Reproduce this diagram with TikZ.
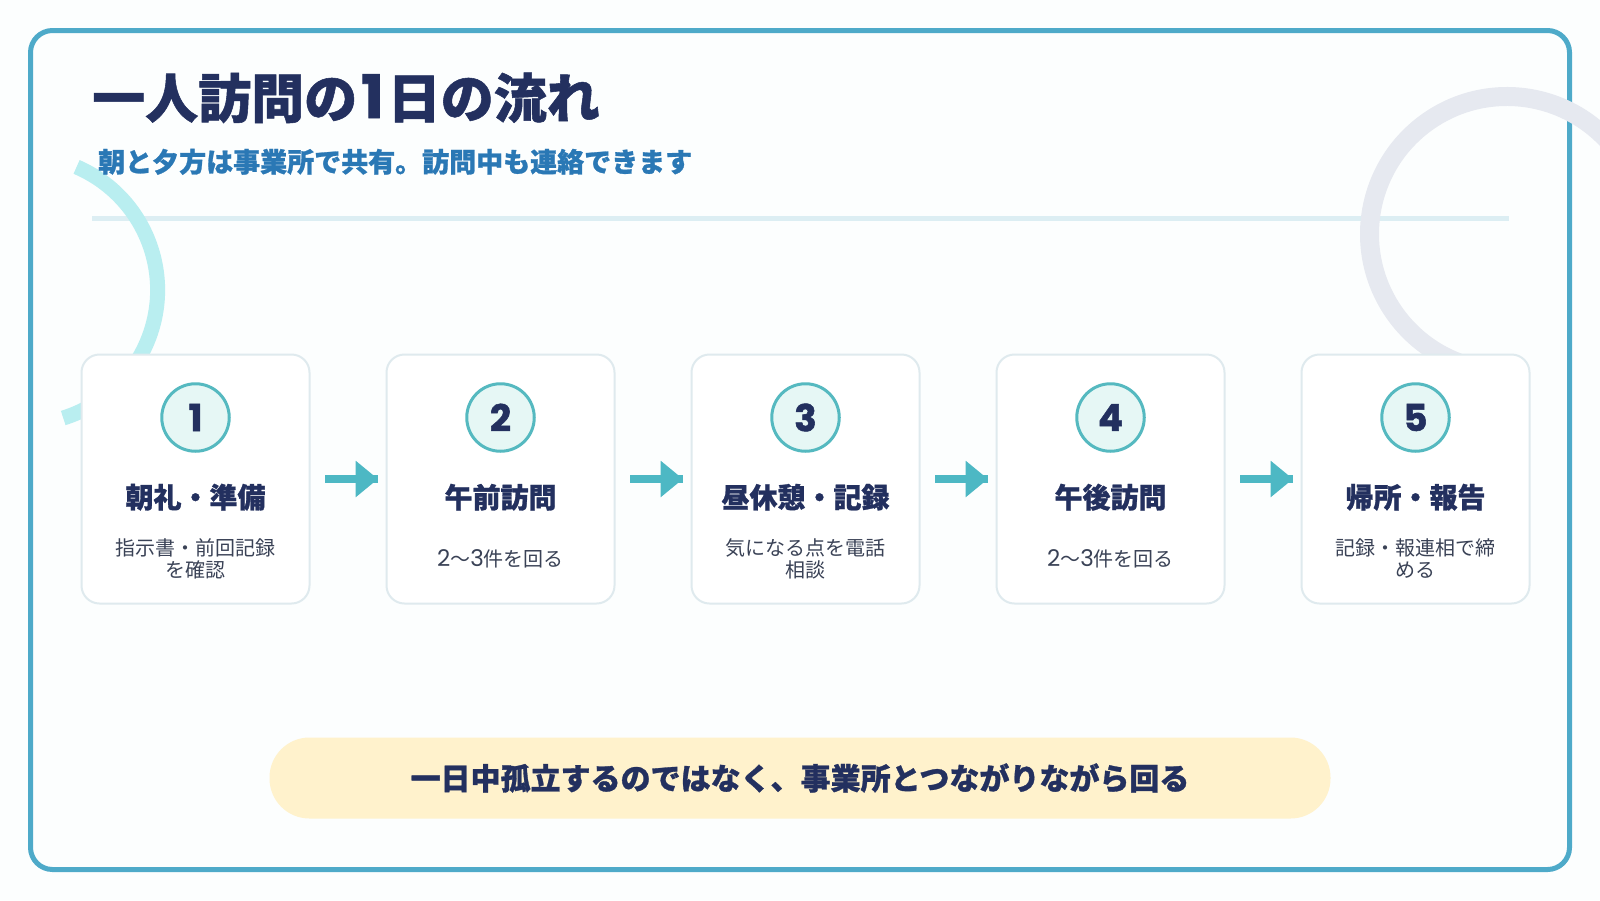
\documentclass[tikz,border=0pt]{standalone}
\usepackage{fontspec}
\setmainfont{Noto Sans CJK JP}
\newfontfamily\heavyfont[FakeBold=1]{Noto Sans CJK JP Black}
\newfontfamily\digitheavy[FakeBold=1.5]{Poppins Bold}
\newfontfamily\digitlight{Poppins}
\usetikzlibrary{arrows.meta}
\definecolor{pagebg}{HTML}{FCFEFE}
\definecolor{framec}{HTML}{4EAAC9}
\definecolor{navy}{HTML}{23305F}
\definecolor{subc}{HTML}{2A78B5}
\definecolor{rulec}{HTML}{DCEEF3}
\definecolor{arcl}{HTML}{B9EEF0}
\definecolor{arcr}{HTML}{E6E9F0}
\definecolor{cardb}{HTML}{DFEAEE}
\definecolor{badgeb}{HTML}{55B9C0}
\definecolor{badgef}{HTML}{E6F7F5}
\definecolor{descc}{HTML}{3A4256}
\definecolor{arrowc}{HTML}{4DB8C4}
\definecolor{pillc}{HTML}{FFF2CC}
\newcommand\badgenum[1]{\raisebox{-1.8pt}{#1}}
\newcommand\descdigit[1]{{\digitlight\fontsize{23}{22}\selectfont #1}}
\newcommand\twothree{\descdigit{2}〜\descdigit{3}件を回る}
\tikzset{
  cardbox/.style={draw=cardb,line width=2pt,fill=white,rounded corners=18pt,minimum width=228pt,minimum height=249pt,outer sep=0pt,inner sep=0pt},
  badge/.style={circle,draw=badgeb,line width=3pt,fill=badgef,minimum size=67.5pt,inner sep=0pt,text=navy,font=\digitheavy\fontsize{37}{37}\selectfont},
  cardtitle/.style={text=navy,inner sep=0pt,font=\heavyfont\fontsize{28}{30}\selectfont},
  carddesc/.style={text=descc,inner sep=0pt,align=center,font=\fontsize{20}{22}\selectfont},
  flow/.style={draw=arrowc,line width=8pt,shorten <=15.5pt,shorten >=8.5pt,-{Triangle[length=22.3pt,width=35pt]},postaction={draw=arrowc,-}},
}
\begin{document}
\begin{tikzpicture}[x=1pt,y=1pt]
\useasboundingbox (0,0) rectangle (1600,-900);
\fill[pagebg] (0,0) rectangle (1600,-900);
\draw[framec,line width=5pt,rounded corners=22pt] (30.5,-30.5) rectangle (1569.5,-869.5);
\draw[rulec,line width=5pt] (92,-218.5) -- (1509,-218.5);
\draw[arcl,line width=15pt] ([shift={(23.6,-290)}]66.7:134) arc (66.7:-72.8:134);
\draw[arcr,line width=19pt] ([shift={(1507,-234)}]35:137.5) arc (35:270:137.5);
\node[anchor=base west,inner sep=0pt,text=navy,font=\heavyfont\fontsize{53}{53}\selectfont] (title) at (92,-118) {一人訪問の\hspace{4pt}{\digitheavy\fontsize{60}{53}\selectfont 1}\hspace{4pt}日の流れ};
\node[anchor=base west,inner sep=0pt,text=subc,font=\heavyfont\fontsize{27}{27}\selectfont] (subtitle) at (98,-172) {朝と夕方は事業所で共有。訪問中も連絡できます};
\node[cardbox] (c1) at (195.5,-479) {};
\node[cardbox] (c2) at (500.5,-479) {};
\node[cardbox] (c3) at (805.5,-479) {};
\node[cardbox] (c4) at (1110.5,-479) {};
\node[cardbox] (c5) at (1415.5,-479) {};
\node[badge] (b1) at (195.5,-417.5) {\badgenum{1}};
\node[badge] (b2) at (500.5,-417.5) {\badgenum{2}};
\node[badge] (b3) at (805.5,-417.5) {\badgenum{3}};
\node[badge] (b4) at (1110.5,-417.5) {\badgenum{4}};
\node[badge] (b5) at (1415.5,-417.5) {\badgenum{5}};
\node[cardtitle] (t1) at (195.5,-497.2) {朝礼・準備};
\node[cardtitle] (t2) at (500.5,-497.2) {午前訪問};
\node[cardtitle] (t3) at (805.5,-497.2) {昼休憩・記録};
\node[cardtitle] (t4) at (1110.5,-497.2) {午後訪問};
\node[cardtitle] (t5) at (1415.5,-497.2) {帰所・報告};
\node[carddesc] (d1) at (195.5,-559) {指示書・前回記録\\を確認};
\node[carddesc] (d2) at (500.5,-559) {\twothree};
\node[carddesc] (d3) at (805.5,-559) {気になる点を電話\\相談};
\node[carddesc] (d4) at (1110.5,-559) {\twothree};
\node[carddesc] (d5) at (1415.5,-559) {記録・報連相で締\\める};
\draw[flow] (c1.east) -- (c2.west);
\draw[flow] (c2.east) -- (c3.west);
\draw[flow] (c3.east) -- (c4.west);
\draw[flow] (c4.east) -- (c5.west);
\node[fill=pillc,rounded corners=40pt,minimum width=1061pt,minimum height=81pt,inner sep=0pt,outer sep=0pt,text=navy,font=\heavyfont\fontsize{30}{30}\selectfont] (pill) at (800,-778) {一日中孤立するのではなく、事業所とつながりながら回る};
\end{tikzpicture}
\end{document}
